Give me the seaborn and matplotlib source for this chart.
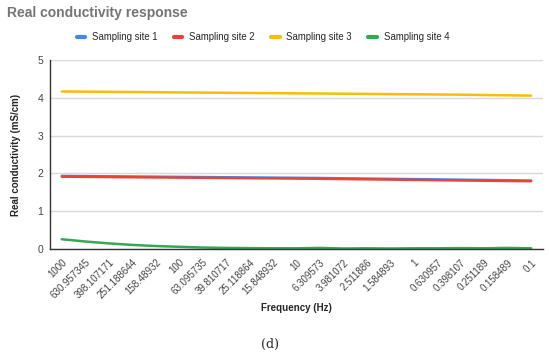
import numpy as np
import pandas as pd
import matplotlib
matplotlib.use('Agg')
import matplotlib.pyplot as plt
import seaborn as sns

freq_labels = ['1000', '630.957345', '398.107171', '251.188644', '158.48932', '100',
               '63.095735', '39.810717', '25.118864', '15.848932', '10', '6.309573',
               '3.981072', '2.511886', '1.584893', '1', '0.630957', '0.398107',
               '0.251189', '0.158489', '0.1']

site1 = [1.935, 1.93, 1.925, 1.92, 1.915, 1.91, 1.905, 1.90, 1.895, 1.89, 1.885,
         1.88, 1.872, 1.865, 1.858, 1.85, 1.843, 1.835, 1.828, 1.82, 1.812]
site2 = [1.915, 1.91, 1.905, 1.90, 1.895, 1.89, 1.885, 1.88, 1.875, 1.87, 1.865,
         1.86, 1.852, 1.845, 1.838, 1.83, 1.823, 1.815, 1.808, 1.80, 1.795]
site3 = [4.17, 4.165, 4.16, 4.155, 4.15, 4.145, 4.14, 4.135, 4.13, 4.125, 4.12,
         4.115, 4.11, 4.105, 4.10, 4.095, 4.09, 4.085, 4.075, 4.068, 4.06]
site4 = [0.26, 0.20, 0.15, 0.11, 0.08, 0.06, 0.04, 0.03, 0.025, 0.02, 0.02,
         0.03, 0.015, 0.02, 0.015, 0.02, 0.02, 0.025, 0.02, 0.03, 0.02]

series_names = ['Sampling site 1', 'Sampling site 2', 'Sampling site 3', 'Sampling site 4']
palette = ['#4285F4', '#EA4335', '#FBBC04', '#34A853']

rows = []
for name, vals in zip(series_names, [site1, site2, site3, site4]):
    for i, v in enumerate(vals):
        rows.append({'idx': i, 'value': v, 'series': name})
df = pd.DataFrame(rows)

sns.set_style('white')
plt.rcParams['font.family'] = ['Liberation Sans', 'DejaVu Sans']

fig = plt.figure(figsize=(5.5, 3.62), dpi=100)
ax = fig.add_axes([0.091, 0.312, 0.896, 0.522])

sns.lineplot(data=df, x='idx', y='value', hue='series', palette=palette,
             linewidth=1.8, ax=ax, legend=False)

ax.set_xlim(-0.5, len(freq_labels) - 0.5)
ax.set_ylim(0, 5)
ax.set_yticks([0, 1, 2, 3, 4, 5])
ax.set_xticks(range(len(freq_labels)))
ax.set_xticklabels(freq_labels, rotation=45, ha='right', rotation_mode='anchor', fontsize=7, color='#444444')
ax.tick_params(axis='y', labelsize=7.5, colors='#444444', length=0, pad=5)
ax.tick_params(axis='x', direction='inout', length=8, width=0.8, color='#333333', pad=2)
ax.grid(axis='y', color='#d9d9d9', linewidth=1)
ax.set_axisbelow(True)
for loc in ['top', 'right']:
    ax.spines[loc].set_visible(False)
for loc in ['left', 'bottom']:
    ax.spines[loc].set_color('#333333')
    ax.spines[loc].set_linewidth(1)

ax.set_xlabel('Frequency (Hz)', fontsize=7, fontweight='bold', labelpad=2)
ax.set_ylabel('Real conductivity (mS/cm)', fontsize=7, fontweight='bold', labelpad=12)

fig.text(0.013, 0.965, 'Real conductivity response', fontsize=10, fontweight='bold',
         color='#757575', va='center', ha='left')

handles = [plt.Line2D([0], [0], color=c, linewidth=3) for c in palette]
fig.legend(handles, series_names, loc='center', bbox_to_anchor=(0.478, 0.897), ncol=4,
           frameon=False, fontsize=6.9, handlelength=0.9, columnspacing=1.7, handletextpad=0.7)

fig.text(0.49, 0.048, '(d)', fontsize=9, fontfamily='DejaVu Serif', ha='center', va='center')

fig.savefig('out.png', dpi=100)
